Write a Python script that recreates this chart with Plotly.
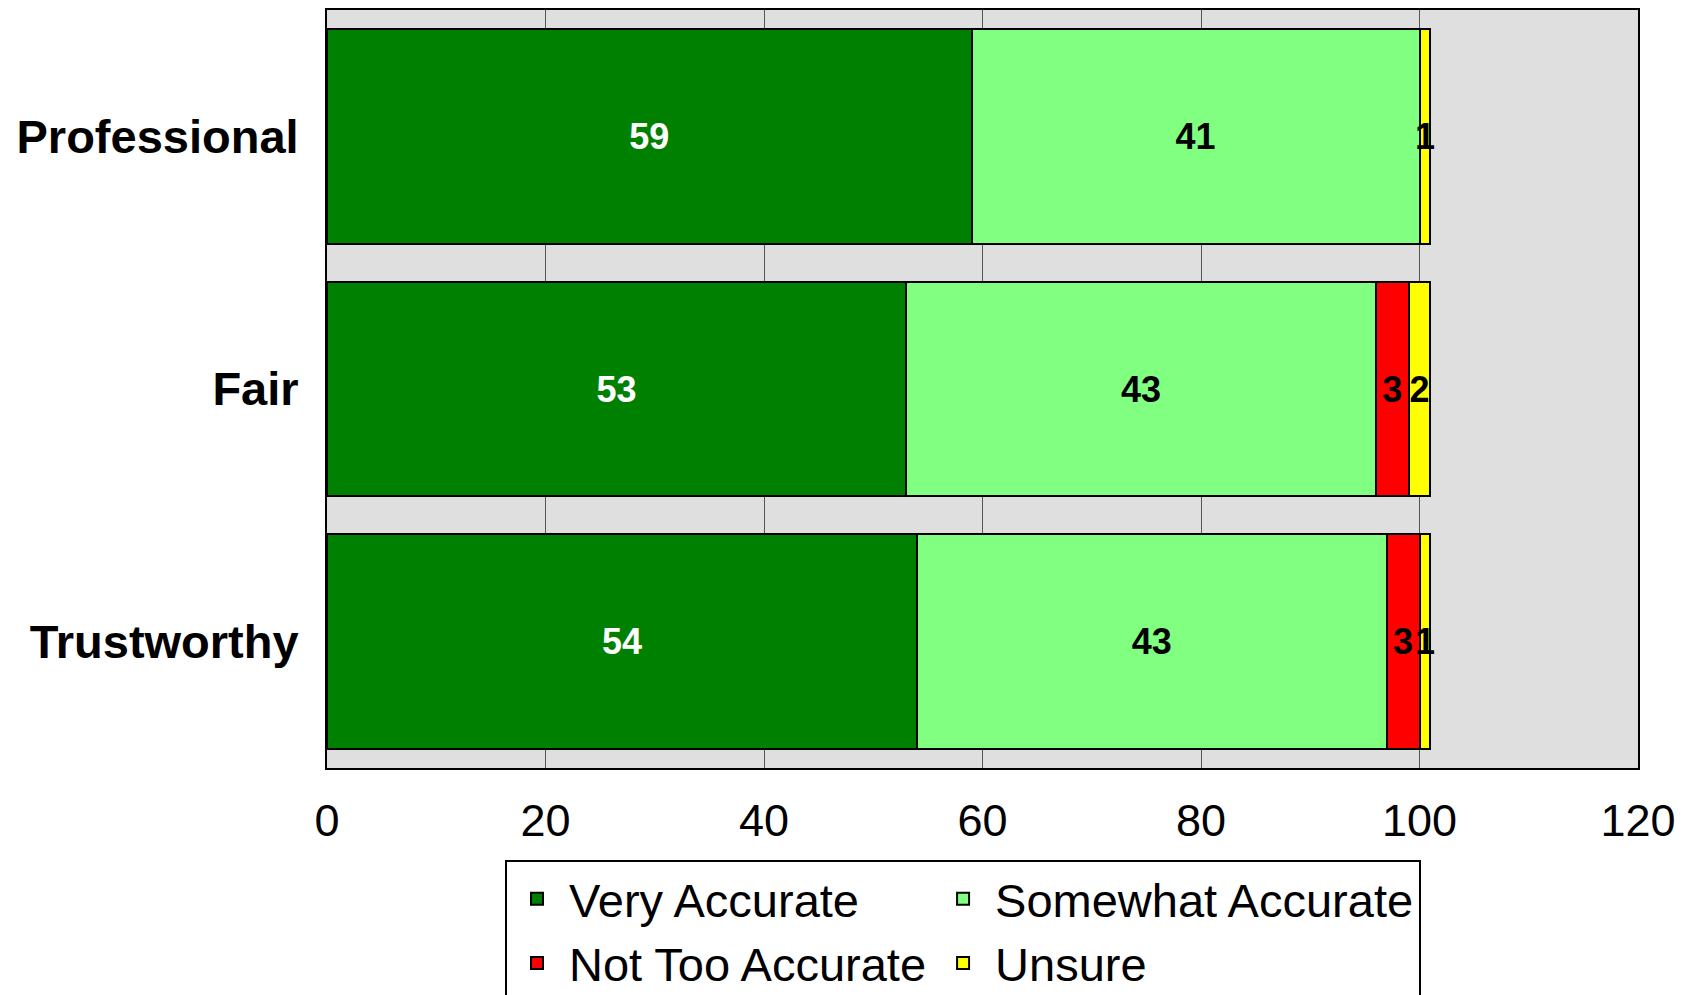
import plotly.graph_objects as go

categories = ["Professional", "Fair", "Trustworthy"]
series_names = ["Very Accurate", "Somewhat Accurate", "Not Too Accurate", "Unsure"]
very_accurate = [59, 53, 54]
somewhat_accurate = [41, 43, 43]
not_too_accurate = [0, 3, 3]
unsure = [1, 2, 1]
x_ticks = [0, 20, 40, 60, 80, 100, 120]

series_values = [very_accurate, somewhat_accurate, not_too_accurate, unsure]
colors = ["#008000", "#80FF80", "#FF0000", "#FFFF00"]
text_colors = ["white", "black", "black", "black"]
groups = ["a", "b", "a", "b"]

fig = go.Figure()
for name, vals, col, tcol, grp in zip(series_names, series_values, colors, text_colors, groups):
    fig.add_trace(go.Bar(
        y=categories, x=vals, name=name, orientation="h",
        legendgroup=grp,
        marker=dict(color=col, line=dict(color="black", width=2)),
        text=[str(v) if v else "" for v in vals],
        textposition="inside", insidetextanchor="middle",
        textangle=0, constraintext="none",
        textfont=dict(family="Liberation Sans", size=36, color=tcol, weight="bold"),
        hoverinfo="skip",
    ))

fig.update_layout(
    width=1696, height=995,
    margin=dict(l=319, r=66, t=0, b=235),
    barmode="stack", bargap=0.15,
    plot_bgcolor="#DFDFDF", paper_bgcolor="white",
    showlegend=True,
    legend=dict(
        orientation="h", traceorder="grouped",
        x=(497 - 319) / 1311, y=-92 / 760, xanchor="left", yanchor="top",
        bordercolor="black", borderwidth=2, bgcolor="white",
        font=dict(family="Liberation Sans", size=47, color="black"),
        tracegroupgap=46, itemwidth=54,
    ),
    xaxis=dict(
        range=[0, 120], tickvals=x_ticks, ticktext=[str(t) for t in x_ticks],
        showgrid=True, gridcolor="#555555", gridwidth=1, zeroline=False,
        showline=True, linecolor="black", linewidth=2, mirror=True,
        ticks="", ticklabelstandoff=12,
        tickfont=dict(family="Liberation Sans", size=45, color="black"),
    ),
    yaxis=dict(
        categoryorder="array", categoryarray=categories, autorange="reversed",
        showgrid=False, zeroline=False,
        showline=True, linecolor="black", linewidth=2, mirror=True,
        ticks="", ticklabelstandoff=17,
        tickfont=dict(family="Liberation Sans", size=47, color="black", weight="bold"),
    ),
)

fig.write_html("out.html")
